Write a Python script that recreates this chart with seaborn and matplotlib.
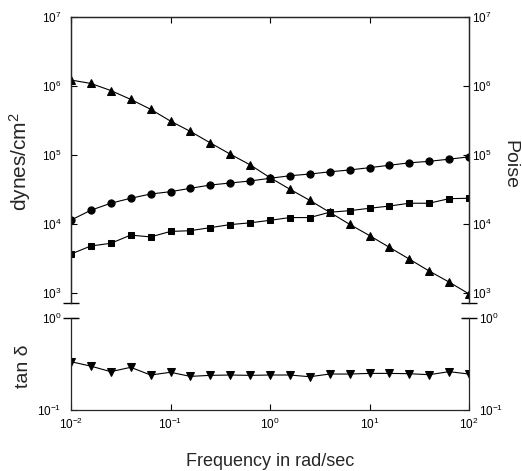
import numpy as np
import pandas as pd
import matplotlib
matplotlib.use("Agg")
import matplotlib.pyplot as plt
import seaborn as sns
from matplotlib.ticker import LogLocator, LogFormatterSciNotation, NullLocator

# Frequency grid (rad/sec), 5 points per decade
freq = [0.01, 0.0158, 0.0251, 0.0398, 0.0631, 0.1, 0.158, 0.251, 0.398, 0.631,
        1.0, 1.58, 2.51, 3.98, 6.31, 10.0, 15.8, 25.1, 39.8, 63.1, 100.0]

# G' (circles), dynes/cm2
g_prime = [1.14e4, 1.58e4, 2.0e4, 2.36e4, 2.72e4, 2.94e4, 3.29e4, 3.67e4, 3.93e4, 4.2e4,
           4.6e4, 5.0e4, 5.3e4, 5.7e4, 6.07e4, 6.55e4, 7.1e4, 7.7e4, 8.1e4, 8.7e4, 9.4e4]
# G'' (squares), dynes/cm2
g_dprime = [3.67e3, 4.8e3, 5.25e3, 6.9e3, 6.5e3, 7.8e3, 8.0e3, 8.85e3, 9.8e3, 1.04e4,
            1.13e4, 1.24e4, 1.24e4, 1.48e4, 1.56e4, 1.69e4, 1.82e4, 2.0e4, 2.0e4, 2.33e4, 2.36e4]
# eta* (triangles), Poise
eta_star = [1.22e6, 1.09e6, 8.6e5, 6.4e5, 4.6e5, 3.1e5, 2.2e5, 1.5e5, 1.03e5, 7.2e4,
            4.7e4, 3.2e4, 2.2e4, 1.48e4, 9.9e3, 6.8e3, 4.6e3, 3.1e3, 2.08e3, 1.44e3, 9.7e2]
# tan delta (down triangles)
tan_delta = [0.335, 0.30, 0.261, 0.291, 0.24, 0.257, 0.232, 0.238, 0.24, 0.238,
             0.24, 0.24, 0.23, 0.246, 0.246, 0.25, 0.25, 0.248, 0.242, 0.261, 0.246]

df = pd.DataFrame({"freq": freq, "g_prime": g_prime, "g_dprime": g_dprime,
                   "eta_star": eta_star, "tan_delta": tan_delta})

sns.set_theme(style="ticks")
plt.rcParams["font.family"] = ["Liberation Sans", "DejaVu Sans"]
plt.rcParams["mathtext.default"] = "regular"
plt.rcParams["axes.linewidth"] = 0.9

fig = plt.figure(figsize=(5.22, 4.71), dpi=100)
W, H = 522, 471
left, right = 71 / W, 469 / W
ax_top = fig.add_axes([left, 1 - 303 / H, right - left, (303 - 17) / H])
ax_bot = fig.add_axes([left, 1 - 410 / H, right - left, (410 - 318) / H])
ax_eta = ax_top.twinx()

line_kw = dict(color="black", linewidth=0.8, markeredgecolor="black", markerfacecolor="black")
sns.lineplot(data=df, x="freq", y="g_prime", ax=ax_top, marker="o", markersize=5.2, **line_kw)
sns.lineplot(data=df, x="freq", y="g_dprime", ax=ax_top, marker="s", markersize=4.6, **line_kw)
sns.lineplot(data=df, x="freq", y="eta_star", ax=ax_eta, marker="^", markersize=5.2, **line_kw)
sns.lineplot(data=df, x="freq", y="tan_delta", ax=ax_bot, marker="v", markersize=5.2, **line_kw)

top_lim = (10 ** (3 - 10 / 69), 1e7)
for ax in (ax_top, ax_eta, ax_bot):
    ax.set_xscale("log")
    ax.set_yscale("log")
    ax.set_xlim(1e-2, 1e2)
    ax.set_xlabel("")
    ax.set_ylabel("")
    ax.xaxis.set_major_locator(LogLocator(base=10, numticks=10))
    ax.yaxis.set_major_locator(LogLocator(base=10, numticks=10))
    ax.xaxis.set_minor_locator(NullLocator())
    ax.yaxis.set_minor_locator(NullLocator())
    ax.yaxis.set_major_formatter(LogFormatterSciNotation())
    ax.tick_params(direction="in", length=4, width=0.8, labelsize=8.5, colors="black")
    ax.set_facecolor("none")

ax_top.set_ylim(*top_lim)
ax_eta.set_ylim(*top_lim)
ax_bot.set_ylim(0.1, 1.0)

# top panel: no bottom spine, ticks on top
for ax in (ax_top, ax_eta):
    ax.spines["bottom"].set_visible(False)
    ax.spines["top"].set_visible(True)
    ax.tick_params(axis="x", bottom=False, top=True, labelbottom=False, labeltop=False)
ax_top.tick_params(axis="y", left=True, right=False, pad=7)
ax_eta.tick_params(axis="y", left=False, right=True, labelright=True, pad=2.5)

# bottom panel: no top spine, labels on both sides
ax_bot.spines["top"].set_visible(False)
ax_bot.spines["right"].set_visible(True)
ax_bot.tick_params(axis="x", top=False, bottom=True, pad=5)
ax_bot.tick_params(axis="y", left=True, right=True, labelleft=True, labelright=True, pad=7)

# axis-break caps at the ends of the vertical spines
cap_kw = dict(marker="_", markersize=11.5, markeredgewidth=1.0, color="black",
              linestyle="none", clip_on=False)
ax_top.plot([0, 1], [0, 0], transform=ax_top.transAxes, **cap_kw)
ax_bot.plot([0, 1], [1, 1], transform=ax_bot.transAxes, **cap_kw)

fig.text(20 / W, 1 - 162 / H, "dynes/cm$^2$", rotation=90, ha="center", va="center", fontsize=15)
fig.text(510 / W, 1 - 165 / H, "Poise", rotation=270, ha="center", va="center", fontsize=14)
fig.text(23 / W, 1 - 366 / H, "tan δ", rotation=90, ha="center", va="center", fontsize=14)
fig.text(270 / W, 1 - 461 / H, "Frequency in rad/sec", ha="center", va="center", fontsize=13)

fig.savefig("out.png", dpi=100, facecolor="white")
